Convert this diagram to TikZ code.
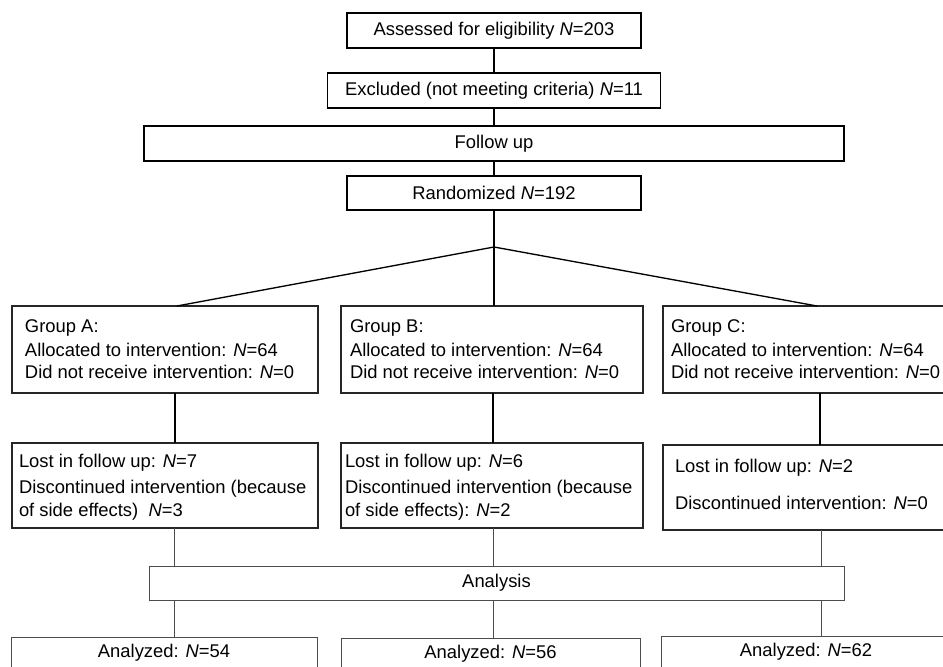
\documentclass[tikz,border=0pt]{standalone}
\usepackage{fontspec}
\setmainfont{Liberation Sans}
\newcommand\fsz{\fontsize{13.8}{16.6}\selectfont}
\newcommand\boxnode[7]{\node[#1,anchor=north west,minimum width=#5*0.75pt,minimum height=#6*0.75pt] (#2) at (#3,#4) {#7};}
\tikzset{
  topbox/.style={draw=black,line width=0.95pt,inner sep=0pt,outer sep=0pt,font=\fsz},
  midbox/.style={draw=black!85,line width=0.8pt,inner sep=0pt,outer sep=0pt,font=\fsz},
  lowbox/.style={draw=black!70,line width=0.75pt,inner sep=0pt,outer sep=0pt,font=\fsz},
  txt/.style={inner sep=0pt,outer sep=0pt,font=\fsz,anchor=base west},
  upline/.style={black,line width=1.3pt},
  diag/.style={black,line width=1pt},
  lowline/.style={black!70,line width=0.75pt}
}
\begin{document}
\begin{tikzpicture}[x=0.75pt,y=-0.75pt]
\useasboundingbox (0,0) rectangle (943,667);
\clip (0,0) rectangle (943,667);
% top column
\boxnode{topbox}{elig}{347}{13}{294}{35}{Assessed for eligibility \textit{N}=203}
\boxnode{topbox}{excl}{327.5}{73}{333}{35}{Excluded (not meeting criteria) \textit{N}=11}
\boxnode{topbox}{follow}{144}{126}{700}{35}{Follow up}
\boxnode{topbox}{rand}{347}{176}{294}{34}{Randomized \textit{N}=192}
\coordinate (J) at (494,247);
% group boxes
\boxnode{midbox}{gA}{12}{306}{306}{87}{}
\boxnode{midbox}{gB}{341}{306}{302}{87}{}
\boxnode{midbox}{gC}{663}{306}{292}{87}{}
% follow-up boxes
\boxnode{midbox}{lA}{12}{443}{306}{85}{}
\boxnode{midbox}{lB}{341}{443}{302}{85}{}
\boxnode{midbox}{lC}{663}{445}{292}{85}{}
% analysis
\boxnode{lowbox}{an}{149}{566}{695}{34}{Analysis}
\boxnode{lowbox}{zA}{11}{637}{306}{31}{Analyzed: \textit{N}=54}
\boxnode{lowbox}{zB}{341}{638}{299}{31}{Analyzed: \textit{N}=56}
\boxnode{lowbox}{zC}{661}{636}{290}{31}{Analyzed: \textit{N}=62}
% texts in group boxes
\node[txt] (tA1) at (25,332) {Group A:};
\node[txt] (tA2) at (25,356) {Allocated to intervention: \textit{N}=64};
\node[txt] (tA3) at (25,378) {Did not receive intervention: \textit{N}=0};
\node[txt] (tB1) at (350,332) {Group B:};
\node[txt] (tB2) at (350,356) {Allocated to intervention: \textit{N}=64};
\node[txt] (tB3) at (350,378) {Did not receive intervention: \textit{N}=0};
\node[txt] (tC1) at (671,332) {Group C:};
\node[txt] (tC2) at (671,356) {Allocated to intervention: \textit{N}=64};
\node[txt] (tC3) at (671,378) {Did not receive intervention: \textit{N}=0};
% texts in follow-up boxes
\node[txt] (uA1) at (19,467) {Lost in follow up: \textit{N}=7};
\node[txt] (uA2) at (19,493) {Discontinued intervention (because};
\node[txt] (uA3) at (19,516) {of side effects)\ \ \textit{N}=3};
\node[txt] (uB1) at (345,467) {Lost in follow up: \textit{N}=6};
\node[txt] (uB2) at (345,493) {Discontinued intervention (because};
\node[txt] (uB3) at (345,516) {of side effects): \textit{N}=2};
\node[txt] (uC1) at (675,472) {Lost in follow up: \textit{N}=2};
\node[txt] (uC2) at (675,509) {Discontinued intervention: \textit{N}=0};
% connector x positions
\coordinate (dA) at (177,0);
\coordinate (dC) at (817,0);
\coordinate (xA) at (175,0);
\coordinate (xB) at (493,0);
\coordinate (xC) at (820,0);
\coordinate (yA) at (174,0);
\coordinate (yC) at (821,0);
% connectors
\draw[upline] (elig.south) -- (excl.north);
\draw[upline] (excl.south) -- (follow.north);
\draw[upline] (follow.south) -- (rand.north);
\draw[upline] (rand.south) -- (gB.north -| rand.south);
\draw[diag] (gA.north -| dA) -- (J) -- (gC.north -| dC);
\draw[upline] (gA.south -| xA) -- (lA.north -| xA);
\draw[upline] (gB.south -| xB) -- (lB.north -| xB);
\draw[upline] (gC.south -| xC) -- (lC.north -| xC);
\draw[lowline] (lA.south -| yA) -- (an.north -| yA);
\draw[lowline] (lB.south -| xB) -- (an.north -| xB);
\draw[lowline] (lC.south -| yC) -- (an.north -| yC);
\draw[lowline] (an.south -| yA) -- (zA.north -| yA);
\draw[lowline] (an.south -| xB) -- (zB.north -| xB);
\draw[lowline] (an.south -| yC) -- (zC.north -| yC);
\end{tikzpicture}
\end{document}
